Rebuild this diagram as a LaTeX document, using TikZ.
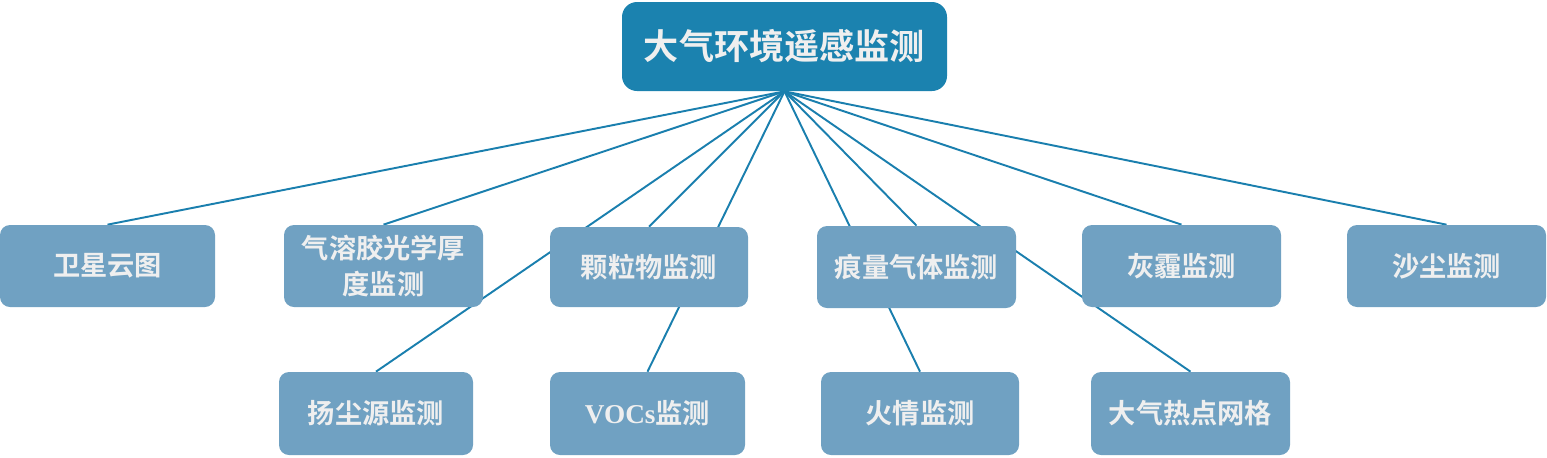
\documentclass[tikz,border=0pt]{standalone}
\usepackage{fontspec}
\setmainfont{Noto Sans CJK SC}[BoldFont={Noto Sans CJK SC Bold}]
\newfontfamily\vocfont{Liberation Serif}
\usetikzlibrary{backgrounds}
\definecolor{topblue}{HTML}{1B82AF}
\definecolor{boxblue}{HTML}{70A1C2}
\definecolor{lineblue}{HTML}{1A7FAE}
\definecolor{txt}{HTML}{EFEFEF}
\begin{document}
\begin{tikzpicture}[x=0.02cm,y=-0.02cm,
  rootbox/.style={fill=topblue,draw=none,rounded corners=0.3cm,inner sep=0pt,
    minimum width=325*0.02cm,minimum height=89*0.02cm,text=txt,
    font=\fontsize{20}{24}\selectfont\bfseries},
  childbox/.style={fill=boxblue,draw=none,rounded corners=0.2cm,inner sep=0pt,
    minimum height=82*0.02cm,text=txt,align=center,
    font=\fontsize{15.5}{20}\selectfont\bfseries},
  link/.style={draw=lineblue,line width=1.1pt}]
\useasboundingbox (0,0) rectangle (1547,457);
\node[rootbox] (root) at (784.5,46.5) {大气环境遥感监测};
\node[childbox,minimum width=215*0.02cm] (sat) at (107.5,266) {卫星云图};
\node[childbox,minimum width=199*0.02cm] (aer) at (383.5,266) {气溶胶光学厚\\度监测};
\node[childbox,minimum width=198*0.02cm,minimum height=80*0.02cm] (pm) at (649,267) {颗粒物监测};
\node[childbox,minimum width=199*0.02cm] (trace) at (916.5,267) {痕量气体监测};
\node[childbox,minimum width=199*0.02cm] (haze) at (1181.5,266) {灰霾监测};
\node[childbox,minimum width=199*0.02cm] (dust) at (1446.5,266) {沙尘监测};
\node[childbox,minimum width=194*0.02cm,minimum height=83*0.02cm] (yang) at (376,413.5) {扬尘源监测};
\node[childbox,minimum width=195*0.02cm,minimum height=83*0.02cm] (voc) at (647.5,413.5) {{\vocfont\bfseries VOCs}监测};
\node[childbox,minimum width=198*0.02cm,minimum height=83*0.02cm] (fire) at (920,413.5) {火情监测};
\node[childbox,minimum width=199*0.02cm,minimum height=83*0.02cm] (grid) at (1190.5,413.5) {大气热点网格};
\begin{pgfonlayer}{background}
\foreach \c in {sat,aer,pm,trace,haze,dust,yang,voc,fire,grid}
  \draw[link] (root.south) -- (\c.north);
\end{pgfonlayer}
\end{tikzpicture}
\end{document}
